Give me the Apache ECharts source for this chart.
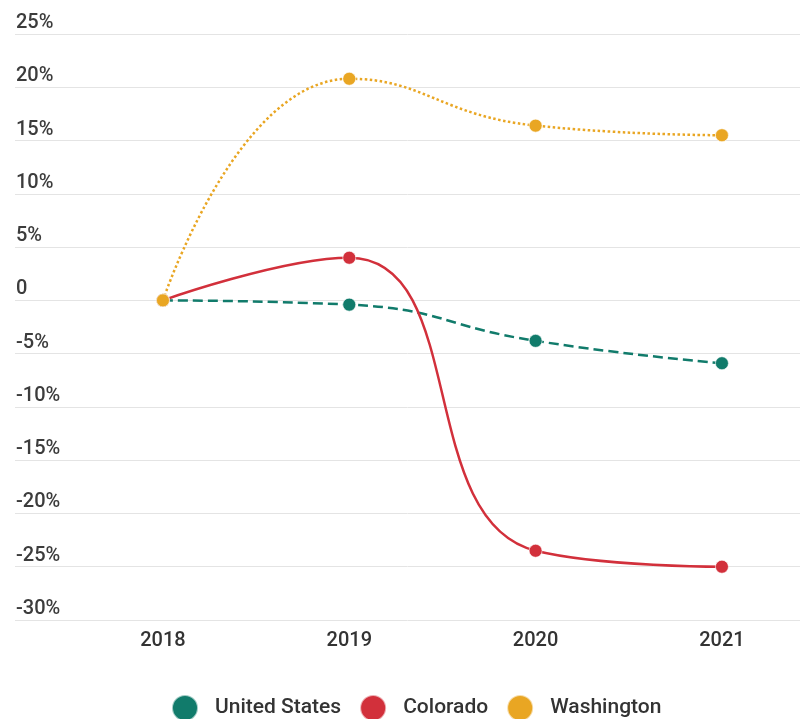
<!DOCTYPE html>
<html><head><meta charset="utf-8">
<script src="https://cdn.jsdelivr.net/npm/echarts@6/dist/echarts.min.js"></script>
<style>html,body{margin:0;padding:0;background:#fff}#c{width:803px;height:719px}</style>
</head><body><div id="c"></div>
<script>
const years = [2018, 2019, 2020, 2021];
const unitedStates = [0, -0.4, -3.8, -5.9];
const colorado = [0, 4.0, -23.5, -25.0];
const washington = [0, 20.8, 16.4, 15.5];
const yTicks = [-30, -25, -20, -15, -10, -5, 0, 5, 10, 15, 20, 25];

const pairs = arr => arr.map((v, i) => [years[i], v]);
const chart = echarts.init(document.getElementById('c'));
const font = 'Roboto, "Noto Sans", sans-serif';
function mk(name, data, color, type) {
  return {
    name, type: 'line', data: pairs(data), smooth: 0.5,
    symbol: 'circle', symbolSize: 13,
    lineStyle: { color, width: 2.5, type },
    itemStyle: { color, borderColor: 'rgba(255,255,255,0.6)', borderWidth: 1 },
    z: 3
  };
}
chart.setOption({
  animation: false,
  textStyle: { fontFamily: font },
  grid: { left: 15, right: 3, top: 34, bottom: 99 },
  xAxis: {
    type: 'value', min: 2017.206, max: 2021.419,
    axisLine: { show: false }, axisTick: { show: false }, splitLine: { show: false },
    axisLabel: { customValues: years, formatter: v => String(v), margin: 11,
      color: '#333', fontSize: 20, fontWeight: 500, fontFamily: font }
  },
  yAxis: {
    type: 'value', min: yTicks[0], max: yTicks[yTicks.length - 1], interval: 5,
    axisLine: { show: false }, axisTick: { show: false },
    splitLine: { lineStyle: { color: '#e4e4e4', width: 1 } },
    axisLabel: { inside: true, margin: 1, verticalAlign: 'bottom', padding: [0, 0, 1, 0],
      color: '#3c3c3c', fontSize: 20, fontWeight: 500, fontFamily: font,
      formatter: v => v === 0 ? '0' : v + '%' }
  },
  legend: {
    left: 166, top: 689, icon: 'circle', itemWidth: 26, itemHeight: 26, itemGap: 18,
    textStyle: { fontSize: 21, color: '#333', fontWeight: 500, fontFamily: font, padding: [0, 0, 0, 12] },
    data: ['United States', 'Colorado', 'Washington']
  },
  series: [
    mk('United States', unitedStates, '#117b6b', 'dashed'),
    mk('Colorado', colorado, '#d2303b', 'solid'),
    mk('Washington', washington, '#e9a623', 'dotted')
  ]
});
</script></body></html>
